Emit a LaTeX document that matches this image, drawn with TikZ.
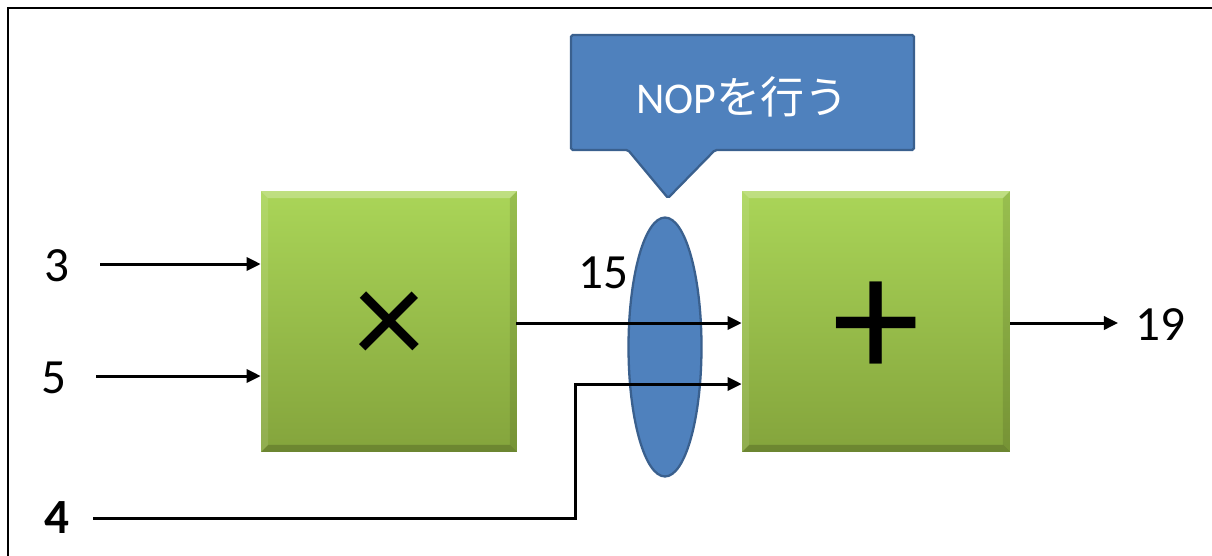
\documentclass[tikz,border=0pt]{standalone}
\usepackage{fontspec}
\setmainfont{Carlito}
\newfontfamily\jpfont{Noto Sans CJK JP}
\usetikzlibrary{arrows.meta}
\usetikzlibrary{shapes.geometric}
\usetikzlibrary{positioning}

\definecolor{boxtop}{RGB}{170,213,88}
\definecolor{boxbot}{RGB}{132,164,60}
\definecolor{nopblue}{RGB}{79,129,189}
\definecolor{nopedge}{RGB}{58,96,142}

\tikzset{
  opbox/.style={rectangle, inner sep=0pt, top color=boxtop, bottom color=boxbot,
    path picture={
      % bevelled edges
      \fill[white, opacity=.25] (path picture bounding box.north west) -- (path picture bounding box.north east)
        -- ([shift={(-4pt,-4pt)}]path picture bounding box.north east) -- ([shift={(4pt,-4pt)}]path picture bounding box.north west) -- cycle;
      \fill[white, opacity=.1] (path picture bounding box.north west) -- (path picture bounding box.south west)
        -- ([shift={(4pt,4pt)}]path picture bounding box.south west) -- ([shift={(4pt,-4pt)}]path picture bounding box.north west) -- cycle;
      \fill[black, opacity=.1] (path picture bounding box.north east) -- (path picture bounding box.south east)
        -- ([shift={(-4pt,4pt)}]path picture bounding box.south east) -- ([shift={(-4pt,-4pt)}]path picture bounding box.north east) -- cycle;
      \fill[black, opacity=.18] (path picture bounding box.south west) -- (path picture bounding box.south east)
        -- ([shift={(-4pt,4pt)}]path picture bounding box.south east) -- ([shift={(4pt,4pt)}]path picture bounding box.south west) -- cycle;
    }},
  sig/.style={line width=1.7pt, -{Triangle[length=8pt,width=7.5pt]}},
  num/.style={font=\fontsize{28}{30}\selectfont},
  opsym/.style={inner sep=0pt},
  nop/.style={fill=nopblue, draw=nopedge, line width=1.3pt},
}

\begin{document}
\begin{tikzpicture}[x=0.02cm, y=-0.02cm]
  \useasboundingbox (0,0) rectangle (1212,555);
  % outer frame (cut off at right and bottom)
  \draw[line width=1.7pt] (1240,8) -- (8,8) -- (8,580);

  % multiplier and adder blocks
  \node[opbox, minimum width=5.12cm, minimum height=5.22cm] (mul) at (389,321.5) {};
  \node[opbox, minimum width=5.36cm, minimum height=5.22cm] (add) at (876,321.5) {};
  \node[opsym, font=\fontsize{80}{80}\selectfont, yshift=-0.14cm] (mulsym) at (mul.center) {×};
  \node[opsym, font=\fontsize{100}{100}\selectfont, yshift=-0.18cm] (addsym) at (add.center) {+};

  % register that is skipped
  \node[nop, ellipse, inner sep=0pt, minimum width=1.46cm, minimum height=5.18cm] (reg) at (665,347) {};

  % callout above it
  \draw[nop, rounded corners=1pt] (571,35) -- (914,35) -- (914,150) -- (715,150) -- (668,198)
    -- (628,150) -- (571,150) -- cycle;
  \node[text=white, font=\fontsize{25}{28}\selectfont] (nop) at (742,97) {NOP{\jpfont を行う}};

  % inputs
  \node[num] (lbl3) at (57,266) {3};
  \node[num] (lbl5) at (54,378) {5};
  \node[num, font=\fontsize{28}{30}\selectfont\bfseries] (lbl4) at (57,518) {4};
  \coordinate (in3) at (100,264);
  \coordinate (in5) at (96,376);
  \coordinate (in4) at (93,518);
  \coordinate (j4) at (575,384);
  \draw[sig] (in3) -- (in3 -| mul.west);
  \draw[sig] (in5) -- (in5 -| mul.west);

  % product into the adder
  \coordinate (p15) at (516,323);
  \draw[sig] (p15) -- (p15 -| add.west);
  \node[num] (lbl15) at (603,273) {15};
  \draw[sig] (in4) -| (j4) -- (j4 -| add.west);

  % result
  \coordinate (out) at (1118,323);
  \draw[sig] (add.east |- out) -- (out);
  \node[num] (lbl19) at (1160,325) {19};
\end{tikzpicture}
\end{document}
